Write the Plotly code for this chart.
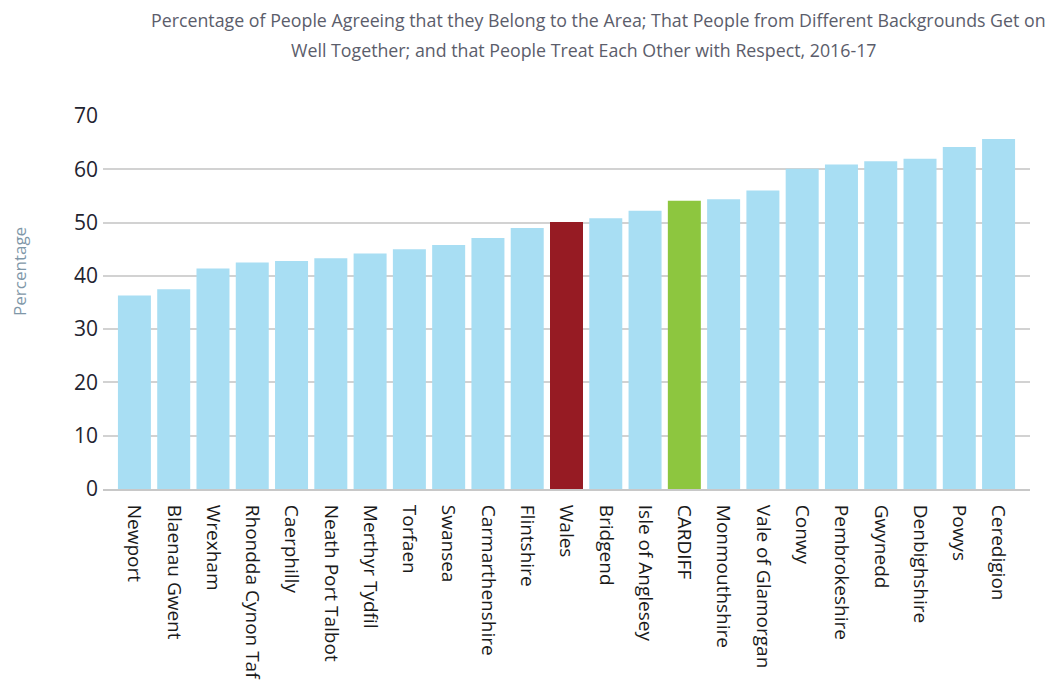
import plotly.graph_objects as go

areas = ["Newport", "Blaenau Gwent", "Wrexham", "Rhondda Cynon Taf", "Caerphilly",
         "Neath Port Talbot", "Merthyr Tydfil", "Torfaen", "Swansea", "Carmarthenshire",
         "Flintshire", "Wales", "Bridgend", "Isle of Anglesey", "CARDIFF", "Monmouthshire",
         "Vale of Glamorgan", "Conwy", "Pembrokeshire", "Gwynedd", "Denbighshire",
         "Powys", "Ceredigion"]
values = [36.3, 37.5, 41.4, 42.5, 42.8, 43.3, 44.2, 45.0, 45.8, 47.1, 49.0, 50.1,
          50.8, 52.2, 54.1, 54.4, 56.0, 60.1, 60.9, 61.5, 62.0, 64.2, 65.7]
y_ticks = [0, 10, 20, 30, 40, 50, 60, 70]

BLUE = "#a8def3"
RED = "#961b23"
GREEN = "#8dc63f"
colors = [RED if a == "Wales" else GREEN if a == "CARDIFF" else BLUE for a in areas]

fig = go.Figure(go.Bar(
    x=areas, y=values,
    marker=dict(color=colors, line=dict(width=0)),
    hoverinfo="x+y",
))

fig.update_layout(
    width=1048, height=675,
    margin=dict(l=95, r=26, t=108, b=194, autoexpand=False),
    paper_bgcolor="white", plot_bgcolor="white",
    bargap=0.16,
    showlegend=False,
    font=dict(family="Open Sans, Lato, sans-serif"),
    xaxis=dict(
        range=[-0.8, 22.8],
        tickangle=90,
        automargin=False,
        tickfont=dict(size=19, color="#1a1a1a", family="Open Sans, sans-serif"),
        showgrid=False,
        showline=True, linecolor="#c8c8c8", linewidth=2,
        ticks="", ticklabelstandoff=10,
    ),
    yaxis=dict(
        range=[0, 70],
        automargin=False,
        tickvals=y_ticks,
        tickfont=dict(size=21, color="#1f2430", family="Open Sans, sans-serif"),
        showgrid=True, gridcolor="#d2d2d2", gridwidth=2,
        zeroline=False, showline=False,
        ticks="", ticklabelstandoff=4,
    ),
    annotations=[
        dict(text="Percentage of People Agreeing that they Belong to the Area; That People from Different Backgrounds Get on",
             xref="paper", yref="paper", x=0.534, y=1.2574, xanchor="center", yanchor="middle",
             showarrow=False, font=dict(size=17.8, color="#5b5d6b", family="Open Sans, sans-serif")),
        dict(text="Well Together; and that People Treat Each Other with Respect, 2016-17",
             xref="paper", yref="paper", x=0.518, y=1.177, xanchor="center", yanchor="middle",
             showarrow=False, font=dict(size=17.8, color="#5b5d6b", family="Open Sans, sans-serif")),
        dict(text="Percentage", xref="paper", yref="paper", x=-0.0895, y=0.582,
             xanchor="center", yanchor="middle", textangle=-90, showarrow=False,
             font=dict(size=17, color="#7f97a8", family="Open Sans, sans-serif")),
    ],
)

fig.write_html("out.html")
